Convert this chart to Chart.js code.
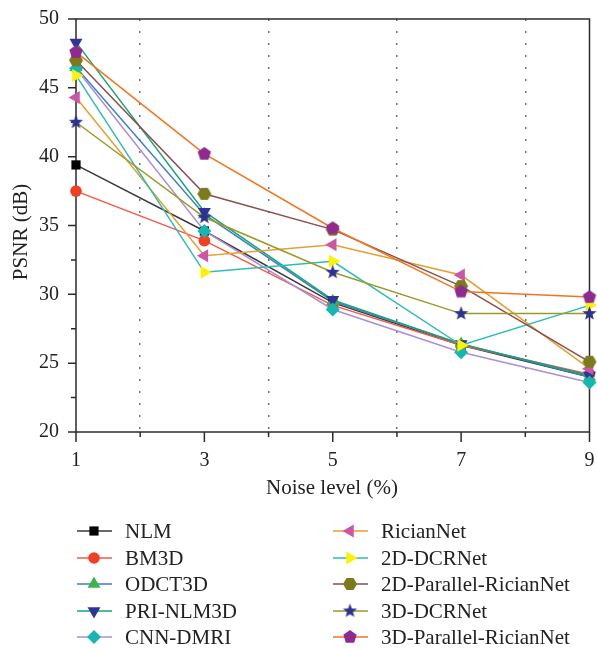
<!DOCTYPE html>
<html>
<head>
<meta charset="utf-8">
<script src="https://cdn.jsdelivr.net/npm/chart.js@4.4.1/dist/chart.umd.min.js"></script>
<style>
  html, body { margin: 0; padding: 0; background: #fff; }
  canvas { display: block; }
</style>
</head>
<body>
<canvas id="psnrChart" width="597" height="648"></canvas>
<script>
// Noise levels (%) and PSNR (dB)
const noiseLevels = [1, 3, 5, 7, 9];
const seriesNames = ['NLM', 'BM3D', 'ODCT3D', 'PRI-NLM3D', 'CNN-DMRI',
  'RicianNet', '2D-DCRNet', '2D-Parallel-RicianNet', '3D-DCRNet', '3D-Parallel-RicianNet'];
const nlm = [39.4, 34.6, 29.4, 26.3, 24.0];
const bm3d = [37.5, 33.9, 29.2, 26.3, 24.2];
const odct3d = [46.5, 35.8, 29.5, 26.4, 24.0];
const priNlm3d = [48.3, 36.0, 29.6, 26.4, 24.1];
const cnnDmri = [46.4, 34.6, 28.9, 25.8, 23.6];
const ricianNet = [44.3, 32.8, 33.6, 31.4, 24.6];
const dcrNet2d = [45.9, 31.6, 32.4, 26.3, 29.2];
const parallel2d = [47.0, 37.3, 34.7, 30.6, 25.1];
const dcrNet3d = [42.5, 35.6, 31.6, 28.6, 28.6];
const parallel3d = [47.6, 40.2, 34.8, 30.2, 29.8];
const yTicks = [20, 25, 30, 35, 40, 45, 50];

const FONT = '21px "Liberation Serif", "Times New Roman", serif';

// small canvases for marker shapes chart.js doesn't have
function shape(kind, color, r) {
  const c = document.createElement('canvas');
  c.width = c.height = Math.ceil(2 * r + 2);
  const g = c.getContext('2d');
  const cx = c.width / 2, cy = c.height / 2;
  g.fillStyle = color;
  g.beginPath();
  if (kind === 'star') {
    for (let i = 0; i < 10; i++) {
      const rr = i % 2 ? r * 0.42 : r;
      const a = -Math.PI / 2 + i * Math.PI / 5;
      g.lineTo(cx + rr * Math.cos(a), cy + rr * Math.sin(a));
    }
  } else {
    const n = kind === 'pentagon' ? 5 : 6;
    const start = kind === 'pentagon' ? -Math.PI / 2 : 0;
    for (let i = 0; i < n; i++) {
      const a = start + i * 2 * Math.PI / n;
      g.lineTo(cx + r * Math.cos(a), cy + r * Math.sin(a));
    }
  }
  g.closePath();
  g.fill();
  return c;
}

const values = [nlm, bm3d, odct3d, priNlm3d, cnnDmri, ricianNet, dcrNet2d, parallel2d, dcrNet3d, parallel3d];
const lineColors = ['#3a3a3a', '#f25a48', '#3d7fc8', '#17a673', '#ab8fd4',
  '#e3a12f', '#2bbdb5', '#8a4f4f', '#9a9a26', '#f3731f'];
const markerColors = ['#000000', '#ee4123', '#3cb44a', '#30349a', '#12b8b1',
  '#cc55a8', '#fff200', '#7b7b1c', '#2e3192', '#8f2a8f'];
const markerStyles = ['rect', 'circle', 'triangle', 'triangle', 'rectRot',
  'triangle', 'triangle', shape('hexagon', '#7b7b1c', 7), shape('star', '#2e3192', 7.5), shape('pentagon', '#8f2a8f', 7)];
const markerRot = [0, 0, 0, 180, 0, 270, 90, 0, 0, 0];
const markerSize = [6.5, 5.8, 7.5, 7.5, 7, 7.5, 7.5, 7, 7.5, 7];

const datasets = seriesNames.map((name, i) => ({
  label: name,
  data: values[i].map((v, k) => ({ x: noiseLevels[k], y: v })),
  borderColor: lineColors[i],
  borderWidth: 1.5,
  backgroundColor: markerColors[i],
  pointBackgroundColor: markerColors[i],
  pointBorderWidth: 0,
  pointBorderColor: markerColors[i],
  pointStyle: markerStyles[i],
  pointRotation: markerRot[i],
  pointRadius: markerSize[i],
  tension: 0,
  clip: false,
  order: 10 - i
}));

const framePlugin = {
  id: 'frame',
  beforeDatasetsDraw(chart) {
    const { ctx, chartArea: a, scales: { x, y } } = chart;
    ctx.save();
    ctx.strokeStyle = '#2b2b2b';
    ctx.lineWidth = 1.5;
    ctx.strokeRect(a.left, a.top, a.right - a.left, a.bottom - a.top);
    ctx.beginPath();
    for (let v = 1; v <= 9; v++) {
      const px = x.getPixelForValue(v);
      ctx.moveTo(px, a.bottom);
      ctx.lineTo(px, a.bottom + (v % 2 ? 10 : 5));
    }
    for (let v = 20; v <= 50; v += 2.5) {
      const py = y.getPixelForValue(v);
      ctx.moveTo(a.left, py);
      ctx.lineTo(a.left - (v % 5 ? 5 : 8), py);
    }
    ctx.stroke();
    ctx.restore();
  },
  afterDraw(chart) {
    const { ctx } = chart;
    ctx.save();
    ctx.fillStyle = '#222';
    ctx.font = FONT;
    ctx.textAlign = 'center';
    ctx.textBaseline = 'middle';
    ctx.fillText('Noise level (%)', 332, 488);
    ctx.save();
    ctx.translate(21, 232);
    ctx.rotate(-Math.PI / 2);
    ctx.fillText('PSNR (dB)', 0, 0);
    ctx.restore();

    // legend: two columns, line sample with the marker in the middle
    const rows = [531, 558, 584, 611, 637];
    const cols = [77, 333];
    ctx.textAlign = 'left';
    chart.data.datasets.forEach((ds, i) => {
      const col = cols[Math.floor(i / 5)];
      const yy = rows[i % 5];
      ctx.strokeStyle = ds.borderColor;
      ctx.lineWidth = 1.5;
      ctx.beginPath();
      ctx.moveTo(col, yy);
      ctx.lineTo(col + 35, yy);
      ctx.stroke();
      ctx.fillStyle = ds.pointBackgroundColor;
      ctx.strokeStyle = ds.pointBackgroundColor;
      Chart.helpers.drawPoint(ctx, {
        pointStyle: ds.pointStyle, rotation: ds.pointRotation,
        radius: ds.pointRadius, borderWidth: 0
      }, col + 17, yy);
      ctx.fillStyle = '#222';
      ctx.fillText(ds.label, col + 48, yy + 1);
    });
    ctx.restore();
  }
};

new Chart(document.getElementById('psnrChart'), {
  type: 'line',
  data: { datasets: datasets },
  plugins: [framePlugin],
  options: {
    responsive: false,
    animation: false,
    events: [],
    layout: { padding: { left: 0, top: 19, right: 5, bottom: 176 } },
    plugins: { legend: { display: false }, tooltip: { enabled: false } },
    scales: {
      x: {
        type: 'linear',
        min: 1, max: 9,
        afterFit: s => { s.height = 40; },
        border: { display: false, dash: [2, 10] },
        grid: {
          drawTicks: true,
          tickLength: 17,
          tickColor: 'rgba(0,0,0,0)',
          lineWidth: 1.5,
          color: c => (c.tick && c.tick.value % 2 === 0 && c.tick.value > 1 && c.tick.value < 9) ? '#707070' : 'rgba(0,0,0,0)'
        },
        ticks: {
          stepSize: 1, autoSkip: false, maxRotation: 0, padding: 0,
          color: '#222', font: { family: '"Liberation Serif", serif', size: 20 },
          callback: v => (v % 2 ? String(v) : '')
        }
      },
      y: {
        min: 20, max: 50,
        afterFit: s => { s.width = 76; },
        afterBuildTicks: s => { s.ticks = yTicks.map(v => ({ value: v })); },
        border: { display: false },
        grid: {
          display: true, drawOnChartArea: false, drawTicks: true,
          tickLength: 17, tickColor: 'rgba(0,0,0,0)', color: 'rgba(0,0,0,0)'
        },
        ticks: {
          padding: 0, color: '#222',
          font: { family: '"Liberation Serif", serif', size: 20 }
        }
      }
    }
  }
});
</script>
</body>
</html>
